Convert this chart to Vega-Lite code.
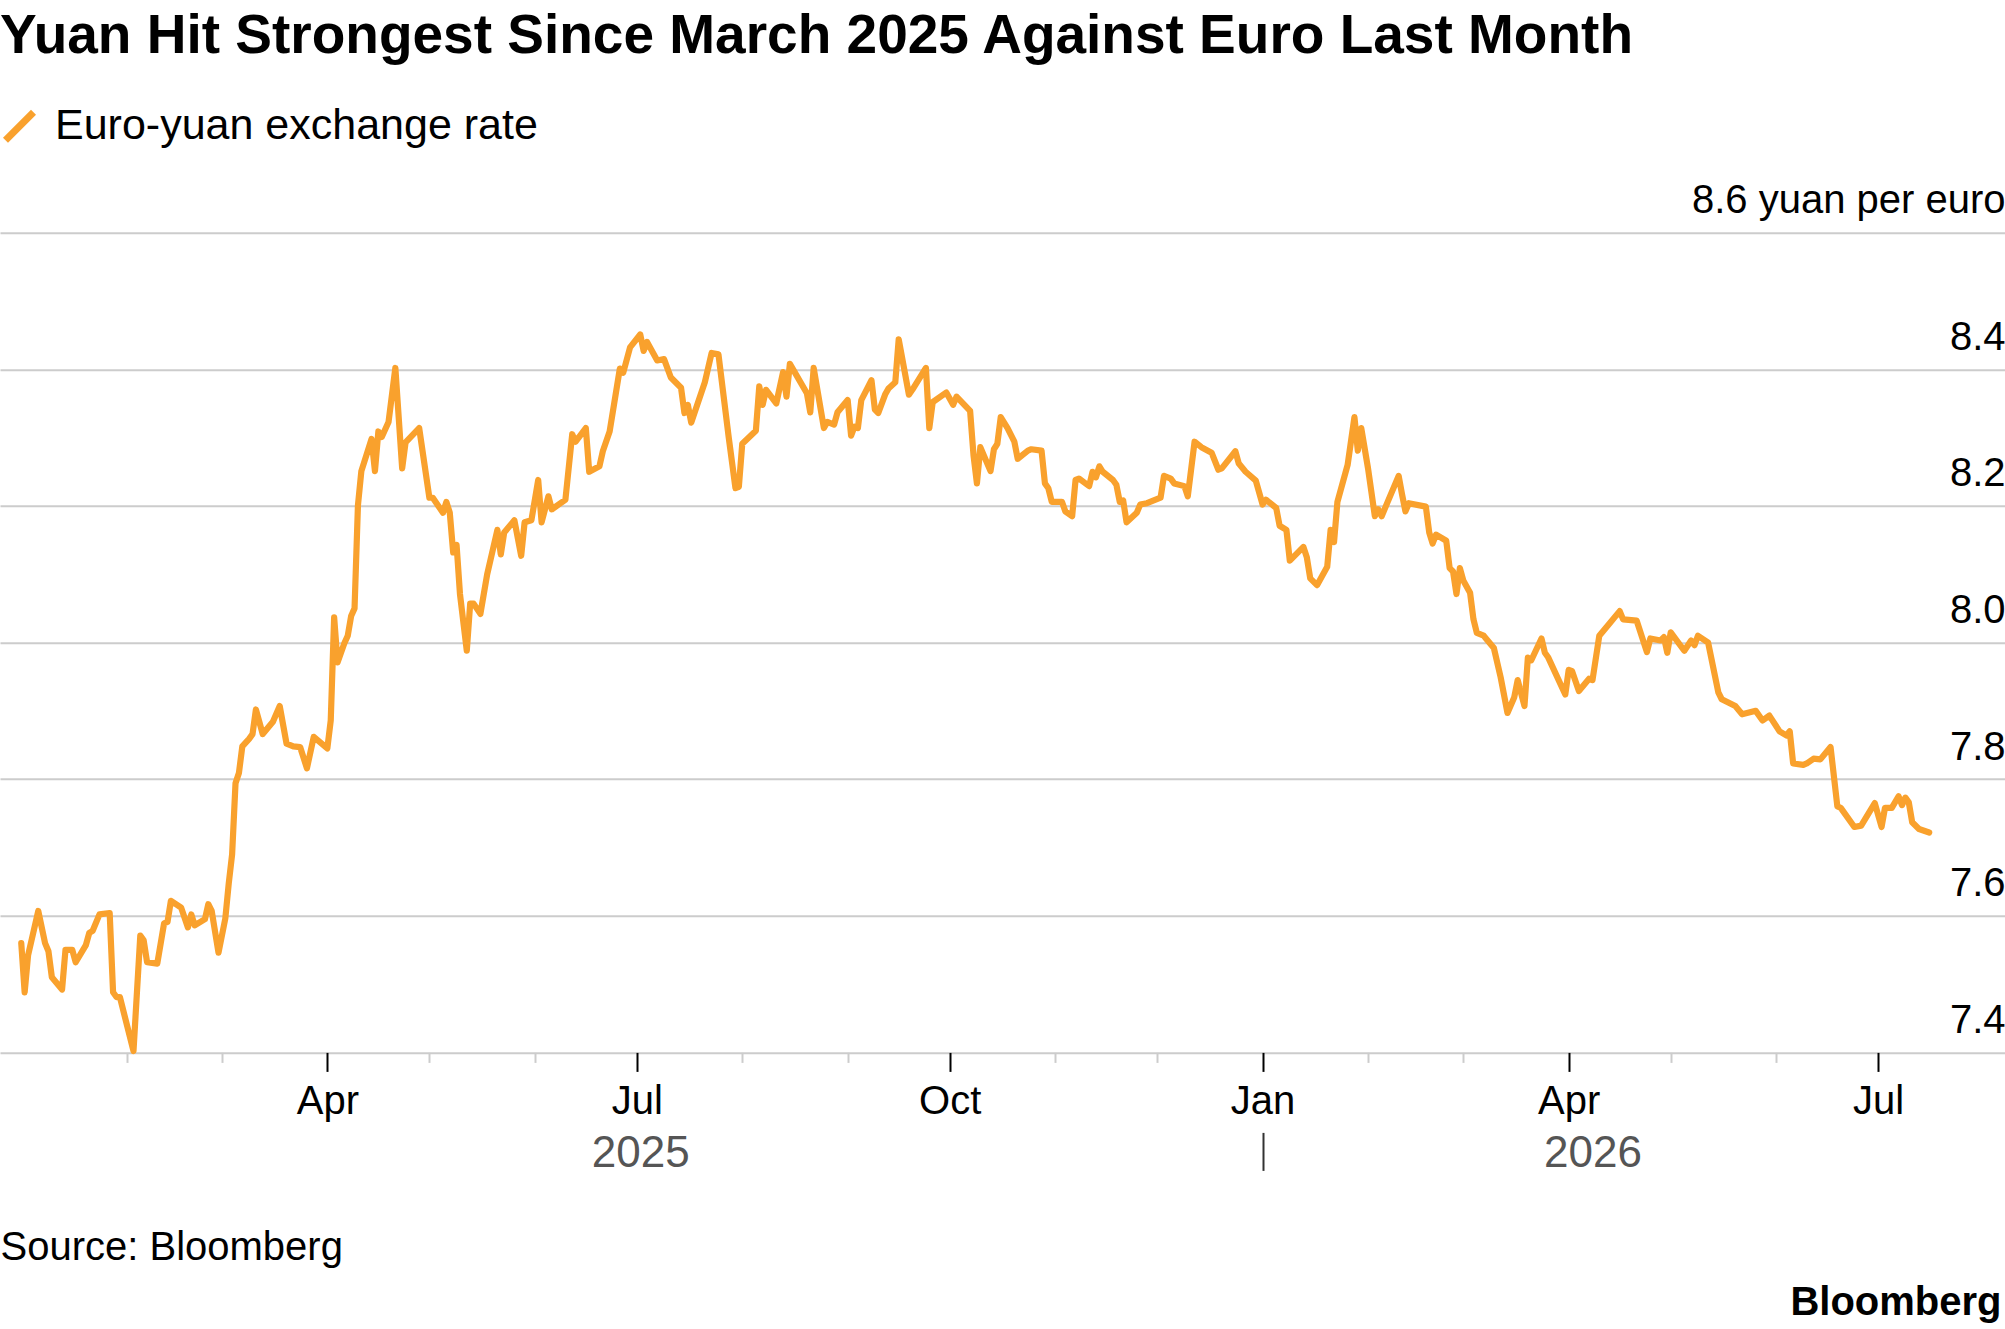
{
  "$schema": "https://vega.github.io/schema/vega-lite/v6.json",
  "width": 2005,
  "height": 819.7,
  "autosize": {"type": "none"},
  "padding": {"left": 0, "top": 232.7, "right": 0, "bottom": 276.6},
  "background": "#ffffff",
  "config": {"view": {"stroke": null}, "font": "Liberation Sans"},
  "title": {
    "text": "Yuan Hit Strongest Since March 2025 Against Euro Last Month",
    "anchor": "start",
    "frame": "group",
    "font": "Liberation Sans",
    "fontSize": 55,
    "fontWeight": "bold",
    "color": "#000000",
    "offset": 40
  },
  "data": {
    "values": [
      {"date": "2025-01-01", "rate": 7.560}, {"date": "2025-01-02", "rate": 7.488}, {"date": "2025-01-03", "rate": 7.542},
      {"date": "2025-01-06", "rate": 7.607}, {"date": "2025-01-08", "rate": 7.560}, {"date": "2025-01-09", "rate": 7.548},
      {"date": "2025-01-10", "rate": 7.510}, {"date": "2025-01-13", "rate": 7.492}, {"date": "2025-01-14", "rate": 7.550},
      {"date": "2025-01-16", "rate": 7.550}, {"date": "2025-01-17", "rate": 7.532}, {"date": "2025-01-20", "rate": 7.557},
      {"date": "2025-01-21", "rate": 7.575}, {"date": "2025-01-22", "rate": 7.578}, {"date": "2025-01-24", "rate": 7.602},
      {"date": "2025-01-27", "rate": 7.604}, {"date": "2025-01-28", "rate": 7.488}, {"date": "2025-01-29", "rate": 7.481},
      {"date": "2025-01-30", "rate": 7.481}, {"date": "2025-02-03", "rate": 7.402}, {"date": "2025-02-05", "rate": 7.571},
      {"date": "2025-02-06", "rate": 7.564}, {"date": "2025-02-07", "rate": 7.532}, {"date": "2025-02-10", "rate": 7.530},
      {"date": "2025-02-12", "rate": 7.589}, {"date": "2025-02-13", "rate": 7.591}, {"date": "2025-02-14", "rate": 7.622},
      {"date": "2025-02-17", "rate": 7.612}, {"date": "2025-02-19", "rate": 7.583}, {"date": "2025-02-20", "rate": 7.602},
      {"date": "2025-02-21", "rate": 7.586}, {"date": "2025-02-24", "rate": 7.595}, {"date": "2025-02-25", "rate": 7.617},
      {"date": "2025-02-26", "rate": 7.607}, {"date": "2025-02-28", "rate": 7.546}, {"date": "2025-03-02", "rate": 7.596},
      {"date": "2025-03-03", "rate": 7.647}, {"date": "2025-03-04", "rate": 7.690}, {"date": "2025-03-05", "rate": 7.794},
      {"date": "2025-03-06", "rate": 7.809}, {"date": "2025-03-07", "rate": 7.848}, {"date": "2025-03-09", "rate": 7.859},
      {"date": "2025-03-10", "rate": 7.866}, {"date": "2025-03-11", "rate": 7.902}, {"date": "2025-03-13", "rate": 7.866},
      {"date": "2025-03-16", "rate": 7.884}, {"date": "2025-03-18", "rate": 7.907}, {"date": "2025-03-20", "rate": 7.852},
      {"date": "2025-03-22", "rate": 7.848}, {"date": "2025-03-24", "rate": 7.847}, {"date": "2025-03-26", "rate": 7.816},
      {"date": "2025-03-28", "rate": 7.862}, {"date": "2025-04-01", "rate": 7.845}, {"date": "2025-04-02", "rate": 7.886},
      {"date": "2025-04-03", "rate": 8.037}, {"date": "2025-04-04", "rate": 7.971}, {"date": "2025-04-06", "rate": 7.999},
      {"date": "2025-04-07", "rate": 8.010}, {"date": "2025-04-08", "rate": 8.039}, {"date": "2025-04-09", "rate": 8.050},
      {"date": "2025-04-10", "rate": 8.201}, {"date": "2025-04-11", "rate": 8.251}, {"date": "2025-04-14", "rate": 8.298},
      {"date": "2025-04-15", "rate": 8.251}, {"date": "2025-04-16", "rate": 8.309}, {"date": "2025-04-17", "rate": 8.301},
      {"date": "2025-04-19", "rate": 8.323}, {"date": "2025-04-21", "rate": 8.402}, {"date": "2025-04-23", "rate": 8.255},
      {"date": "2025-04-24", "rate": 8.293}, {"date": "2025-04-28", "rate": 8.314}, {"date": "2025-05-01", "rate": 8.212},
      {"date": "2025-05-02", "rate": 8.212}, {"date": "2025-05-05", "rate": 8.190}, {"date": "2025-05-06", "rate": 8.206},
      {"date": "2025-05-07", "rate": 8.190}, {"date": "2025-05-08", "rate": 8.132}, {"date": "2025-05-09", "rate": 8.143},
      {"date": "2025-05-10", "rate": 8.071}, {"date": "2025-05-12", "rate": 7.988}, {"date": "2025-05-13", "rate": 8.057},
      {"date": "2025-05-14", "rate": 8.057}, {"date": "2025-05-16", "rate": 8.042}, {"date": "2025-05-18", "rate": 8.100},
      {"date": "2025-05-21", "rate": 8.165}, {"date": "2025-05-22", "rate": 8.129}, {"date": "2025-05-23", "rate": 8.161},
      {"date": "2025-05-26", "rate": 8.179}, {"date": "2025-05-28", "rate": 8.127}, {"date": "2025-05-29", "rate": 8.176},
      {"date": "2025-05-31", "rate": 8.179}, {"date": "2025-06-02", "rate": 8.238}, {"date": "2025-06-03", "rate": 8.176},
      {"date": "2025-06-05", "rate": 8.214}, {"date": "2025-06-06", "rate": 8.195}, {"date": "2025-06-10", "rate": 8.209},
      {"date": "2025-06-12", "rate": 8.305}, {"date": "2025-06-13", "rate": 8.294}, {"date": "2025-06-16", "rate": 8.314},
      {"date": "2025-06-17", "rate": 8.250}, {"date": "2025-06-20", "rate": 8.258}, {"date": "2025-06-21", "rate": 8.280},
      {"date": "2025-06-23", "rate": 8.309}, {"date": "2025-06-26", "rate": 8.401}, {"date": "2025-06-27", "rate": 8.395},
      {"date": "2025-06-29", "rate": 8.432}, {"date": "2025-07-02", "rate": 8.451}, {"date": "2025-07-03", "rate": 8.427},
      {"date": "2025-07-04", "rate": 8.440}, {"date": "2025-07-07", "rate": 8.413}, {"date": "2025-07-09", "rate": 8.415},
      {"date": "2025-07-11", "rate": 8.388}, {"date": "2025-07-14", "rate": 8.373}, {"date": "2025-07-15", "rate": 8.336},
      {"date": "2025-07-16", "rate": 8.348}, {"date": "2025-07-17", "rate": 8.322}, {"date": "2025-07-21", "rate": 8.381},
      {"date": "2025-07-23", "rate": 8.424}, {"date": "2025-07-25", "rate": 8.422}, {"date": "2025-07-28", "rate": 8.301},
      {"date": "2025-07-30", "rate": 8.226}, {"date": "2025-07-31", "rate": 8.228}, {"date": "2025-08-01", "rate": 8.291},
      {"date": "2025-08-05", "rate": 8.310}, {"date": "2025-08-06", "rate": 8.375}, {"date": "2025-08-07", "rate": 8.348},
      {"date": "2025-08-08", "rate": 8.370}, {"date": "2025-08-11", "rate": 8.350}, {"date": "2025-08-13", "rate": 8.396},
      {"date": "2025-08-14", "rate": 8.360}, {"date": "2025-08-15", "rate": 8.408}, {"date": "2025-08-20", "rate": 8.365},
      {"date": "2025-08-21", "rate": 8.337}, {"date": "2025-08-22", "rate": 8.402}, {"date": "2025-08-25", "rate": 8.314},
      {"date": "2025-08-26", "rate": 8.323}, {"date": "2025-08-28", "rate": 8.319}, {"date": "2025-08-29", "rate": 8.337},
      {"date": "2025-09-01", "rate": 8.355}, {"date": "2025-09-02", "rate": 8.303}, {"date": "2025-09-03", "rate": 8.316},
      {"date": "2025-09-04", "rate": 8.314}, {"date": "2025-09-05", "rate": 8.355}, {"date": "2025-09-08", "rate": 8.384},
      {"date": "2025-09-09", "rate": 8.341}, {"date": "2025-09-10", "rate": 8.336}, {"date": "2025-09-12", "rate": 8.363},
      {"date": "2025-09-13", "rate": 8.372}, {"date": "2025-09-15", "rate": 8.381}, {"date": "2025-09-16", "rate": 8.444},
      {"date": "2025-09-19", "rate": 8.363}, {"date": "2025-09-20", "rate": 8.370}, {"date": "2025-09-24", "rate": 8.402},
      {"date": "2025-09-25", "rate": 8.314}, {"date": "2025-09-26", "rate": 8.352}, {"date": "2025-09-30", "rate": 8.366},
      {"date": "2025-10-02", "rate": 8.348}, {"date": "2025-10-03", "rate": 8.360}, {"date": "2025-10-07", "rate": 8.339},
      {"date": "2025-10-08", "rate": 8.274}, {"date": "2025-10-09", "rate": 8.233}, {"date": "2025-10-10", "rate": 8.286},
      {"date": "2025-10-13", "rate": 8.251}, {"date": "2025-10-14", "rate": 8.283}, {"date": "2025-10-15", "rate": 8.291},
      {"date": "2025-10-16", "rate": 8.330}, {"date": "2025-10-18", "rate": 8.314}, {"date": "2025-10-20", "rate": 8.294},
      {"date": "2025-10-21", "rate": 8.269}, {"date": "2025-10-24", "rate": 8.281}, {"date": "2025-10-25", "rate": 8.283},
      {"date": "2025-10-28", "rate": 8.281}, {"date": "2025-10-29", "rate": 8.233}, {"date": "2025-10-30", "rate": 8.226},
      {"date": "2025-10-31", "rate": 8.206}, {"date": "2025-11-03", "rate": 8.206}, {"date": "2025-11-04", "rate": 8.192},
      {"date": "2025-11-06", "rate": 8.185}, {"date": "2025-11-07", "rate": 8.238}, {"date": "2025-11-08", "rate": 8.240},
      {"date": "2025-11-11", "rate": 8.229}, {"date": "2025-11-12", "rate": 8.250}, {"date": "2025-11-13", "rate": 8.242},
      {"date": "2025-11-14", "rate": 8.258}, {"date": "2025-11-15", "rate": 8.250}, {"date": "2025-11-18", "rate": 8.238},
      {"date": "2025-11-19", "rate": 8.231}, {"date": "2025-11-20", "rate": 8.206}, {"date": "2025-11-21", "rate": 8.208},
      {"date": "2025-11-22", "rate": 8.176}, {"date": "2025-11-25", "rate": 8.190}, {"date": "2025-11-26", "rate": 8.202},
      {"date": "2025-11-28", "rate": 8.204}, {"date": "2025-12-02", "rate": 8.212}, {"date": "2025-12-03", "rate": 8.244},
      {"date": "2025-12-05", "rate": 8.240}, {"date": "2025-12-06", "rate": 8.233}, {"date": "2025-12-09", "rate": 8.229},
      {"date": "2025-12-10", "rate": 8.214}, {"date": "2025-12-12", "rate": 8.294}, {"date": "2025-12-14", "rate": 8.286},
      {"date": "2025-12-17", "rate": 8.278}, {"date": "2025-12-19", "rate": 8.253}, {"date": "2025-12-20", "rate": 8.255},
      {"date": "2025-12-24", "rate": 8.280}, {"date": "2025-12-25", "rate": 8.262}, {"date": "2025-12-27", "rate": 8.250},
      {"date": "2025-12-30", "rate": 8.237}, {"date": "2026-01-01", "rate": 8.202}, {"date": "2026-01-02", "rate": 8.209},
      {"date": "2026-01-05", "rate": 8.197}, {"date": "2026-01-06", "rate": 8.171}, {"date": "2026-01-08", "rate": 8.165},
      {"date": "2026-01-09", "rate": 8.120}, {"date": "2026-01-13", "rate": 8.140}, {"date": "2026-01-14", "rate": 8.125},
      {"date": "2026-01-15", "rate": 8.094}, {"date": "2026-01-17", "rate": 8.084}, {"date": "2026-01-20", "rate": 8.111},
      {"date": "2026-01-21", "rate": 8.165}, {"date": "2026-01-22", "rate": 8.147}, {"date": "2026-01-23", "rate": 8.206},
      {"date": "2026-01-26", "rate": 8.260}, {"date": "2026-01-28", "rate": 8.330}, {"date": "2026-01-29", "rate": 8.281},
      {"date": "2026-01-30", "rate": 8.314}, {"date": "2026-02-01", "rate": 8.255}, {"date": "2026-02-03", "rate": 8.185},
      {"date": "2026-02-04", "rate": 8.195}, {"date": "2026-02-05", "rate": 8.185}, {"date": "2026-02-10", "rate": 8.244},
      {"date": "2026-02-11", "rate": 8.217}, {"date": "2026-02-12", "rate": 8.192}, {"date": "2026-02-13", "rate": 8.204},
      {"date": "2026-02-18", "rate": 8.199}, {"date": "2026-02-19", "rate": 8.161}, {"date": "2026-02-20", "rate": 8.145},
      {"date": "2026-02-21", "rate": 8.158}, {"date": "2026-02-24", "rate": 8.149}, {"date": "2026-02-25", "rate": 8.109},
      {"date": "2026-02-26", "rate": 8.104}, {"date": "2026-02-27", "rate": 8.071}, {"date": "2026-02-28", "rate": 8.109},
      {"date": "2026-03-01", "rate": 8.091}, {"date": "2026-03-03", "rate": 8.073}, {"date": "2026-03-04", "rate": 8.034},
      {"date": "2026-03-05", "rate": 8.014}, {"date": "2026-03-07", "rate": 8.010}, {"date": "2026-03-10", "rate": 7.992},
      {"date": "2026-03-12", "rate": 7.949}, {"date": "2026-03-14", "rate": 7.897}, {"date": "2026-03-16", "rate": 7.920},
      {"date": "2026-03-17", "rate": 7.945}, {"date": "2026-03-19", "rate": 7.907}, {"date": "2026-03-20", "rate": 7.978},
      {"date": "2026-03-21", "rate": 7.974}, {"date": "2026-03-24", "rate": 8.006}, {"date": "2026-03-25", "rate": 7.985},
      {"date": "2026-03-26", "rate": 7.978}, {"date": "2026-03-31", "rate": 7.924}, {"date": "2026-04-01", "rate": 7.960},
      {"date": "2026-04-02", "rate": 7.958}, {"date": "2026-04-04", "rate": 7.929}, {"date": "2026-04-07", "rate": 7.947},
      {"date": "2026-04-08", "rate": 7.945}, {"date": "2026-04-10", "rate": 8.010}, {"date": "2026-04-13", "rate": 8.028},
      {"date": "2026-04-16", "rate": 8.046}, {"date": "2026-04-17", "rate": 8.034}, {"date": "2026-04-21", "rate": 8.032},
      {"date": "2026-04-24", "rate": 7.986}, {"date": "2026-04-25", "rate": 8.006}, {"date": "2026-04-28", "rate": 8.003},
      {"date": "2026-04-29", "rate": 8.008}, {"date": "2026-04-30", "rate": 7.985}, {"date": "2026-05-01", "rate": 8.015},
      {"date": "2026-05-05", "rate": 7.988}, {"date": "2026-05-07", "rate": 8.003}, {"date": "2026-05-08", "rate": 7.996},
      {"date": "2026-05-09", "rate": 8.010}, {"date": "2026-05-12", "rate": 8.000}, {"date": "2026-05-15", "rate": 7.927},
      {"date": "2026-05-16", "rate": 7.917}, {"date": "2026-05-20", "rate": 7.907}, {"date": "2026-05-22", "rate": 7.895},
      {"date": "2026-05-26", "rate": 7.900}, {"date": "2026-05-28", "rate": 7.886}, {"date": "2026-05-30", "rate": 7.893},
      {"date": "2026-06-02", "rate": 7.870}, {"date": "2026-06-04", "rate": 7.864}, {"date": "2026-06-05", "rate": 7.870},
      {"date": "2026-06-06", "rate": 7.823}, {"date": "2026-06-09", "rate": 7.821}, {"date": "2026-06-10", "rate": 7.823},
      {"date": "2026-06-12", "rate": 7.830}, {"date": "2026-06-14", "rate": 7.829}, {"date": "2026-06-17", "rate": 7.847},
      {"date": "2026-06-19", "rate": 7.760}, {"date": "2026-06-20", "rate": 7.758}, {"date": "2026-06-24", "rate": 7.730},
      {"date": "2026-06-26", "rate": 7.732}, {"date": "2026-06-30", "rate": 7.765}, {"date": "2026-07-02", "rate": 7.730},
      {"date": "2026-07-03", "rate": 7.758}, {"date": "2026-07-05", "rate": 7.758}, {"date": "2026-07-07", "rate": 7.775},
      {"date": "2026-07-08", "rate": 7.762}, {"date": "2026-07-09", "rate": 7.773}, {"date": "2026-07-10", "rate": 7.766},
      {"date": "2026-07-11", "rate": 7.737}, {"date": "2026-07-13", "rate": 7.727}, {"date": "2026-07-16", "rate": 7.722}
    ]
  },
  "layer": [
    {
      "mark": {"type": "line", "strokeWidth": 6.2, "strokeJoin": "round", "strokeCap": "round"},
      "encoding": {
        "x": {
          "field": "date",
          "type": "temporal",
          "scale": {
            "type": "utc",
            "nice": false,
            "domain": [
              {"year": 2024, "month": 12, "date": 25, "hours": 18, "utc": true},
              {"year": 2026, "month": 8, "date": 7, "hours": 7, "utc": true}
            ]
          },
          "axis": {
            "orient": "bottom",
            "title": null,
            "domain": false,
            "grid": false,
            "values": [
              {"year": 2025, "month": 2, "date": 1, "utc": true},
              {"year": 2025, "month": 3, "date": 1, "utc": true},
              {"year": 2025, "month": 4, "date": 1, "utc": true},
              {"year": 2025, "month": 5, "date": 1, "utc": true},
              {"year": 2025, "month": 6, "date": 1, "utc": true},
              {"year": 2025, "month": 7, "date": 1, "utc": true},
              {"year": 2025, "month": 8, "date": 1, "utc": true},
              {"year": 2025, "month": 9, "date": 1, "utc": true},
              {"year": 2025, "month": 10, "date": 1, "utc": true},
              {"year": 2025, "month": 11, "date": 1, "utc": true},
              {"year": 2025, "month": 12, "date": 1, "utc": true},
              {"year": 2026, "month": 1, "date": 1, "utc": true},
              {"year": 2026, "month": 2, "date": 1, "utc": true},
              {"year": 2026, "month": 3, "date": 1, "utc": true},
              {"year": 2026, "month": 4, "date": 1, "utc": true},
              {"year": 2026, "month": 5, "date": 1, "utc": true},
              {"year": 2026, "month": 6, "date": 1, "utc": true},
              {"year": 2026, "month": 7, "date": 1, "utc": true}
            ],
            "labelExpr": "utcmonth(datum.value) % 3 == 0 ? utcFormat(datum.value, '%b') : ''",
            "tickColor": {"condition": {"test": "utcmonth(datum.value) % 3 == 0", "value": "#000000"}, "value": "#cccccc"},
            "tickSize": {"condition": {"test": "utcmonth(datum.value) % 3 == 0", "value": 19}, "value": 10},
            "tickWidth": 2,
            "labelFont": "Liberation Sans",
            "labelFontSize": 40,
            "labelColor": "#000000",
            "labelBaseline": "alphabetic",
            "labelPadding": 42,
            "labelOverlap": false,
            "labelBound": false,
            "labelFlush": false
          }
        },
        "y": {
          "field": "rate",
          "type": "quantitative",
          "scale": {"domain": [7.4, 8.6], "nice": false, "zero": false},
          "axis": {
            "orient": "right",
            "values": [7.4, 7.6, 7.8, 8.0, 8.2, 8.4, 8.6],
            "domain": false,
            "ticks": false,
            "tickSize": 0,
            "grid": true,
            "gridColor": "#cccccc",
            "gridWidth": 2,
            "labelExpr": "datum.value > 8.55 ? '8.6 yuan per euro' : format(datum.value, '.1f')",
            "labelAlign": "right",
            "labelBaseline": "alphabetic",
            "labelOffset": -20,
            "labelPadding": 0,
            "labelLimit": 0,
            "labelFont": "Liberation Sans",
            "labelFontSize": 40,
            "labelColor": "#000000",
            "labelOverlap": false,
            "labelBound": false,
            "labelFlush": false,
            "title": "Bloomberg",
            "titleAngle": 0,
            "titleAlign": "right",
            "titleBaseline": "alphabetic",
            "titleX": -4,
            "titleY": 1082,
            "titleFont": "Liberation Sans",
            "titleFontSize": 40,
            "titleFontWeight": "bold",
            "titleColor": "#000000"
          }
        },
        "color": {
          "datum": "Euro-yuan exchange rate",
          "type": "nominal",
          "scale": {"range": ["#f9a12d"]},
          "legend": {
            "orient": "none",
            "legendX": -2,
            "legendY": -128,
            "title": null,
            "padding": 0,
            "symbolType": "M-1,1L1,-1",
            "symbolSize": 784,
            "symbolStrokeWidth": 7,
            "symbolFillColor": "transparent",
            "labelFont": "Liberation Sans",
            "labelFontSize": 43,
            "labelColor": "#000000",
            "labelOffset": 14,
            "labelLimit": 0
          }
        }
      }
    },
    {
      "mark": {"type": "point", "opacity": 0},
      "encoding": {
        "x": {
          "field": "date",
          "type": "temporal",
          "axis": {
            "orient": "bottom",
            "offset": 80,
            "domain": false,
            "grid": false,
            "values": [
              {"year": 2025, "month": 7, "date": 2, "utc": true},
              {"year": 2026, "month": 1, "date": 1, "utc": true},
              {"year": 2026, "month": 4, "date": 8, "utc": true}
            ],
            "labelExpr": "utcmonth(datum.value) == 0 ? '' : utcFormat(datum.value, '%Y')",
            "tickColor": {"condition": {"test": "utcmonth(datum.value) == 0", "value": "#333333"}, "value": "transparent"},
            "tickSize": 38,
            "tickWidth": 2,
            "labelFont": "Liberation Sans",
            "labelFontSize": 44,
            "labelColor": "#555555",
            "labelBaseline": "alphabetic",
            "labelPadding": -4,
            "labelOverlap": false,
            "labelBound": false,
            "labelFlush": false,
            "title": "Source: Bloomberg",
            "titleAnchor": "start",
            "titleAlign": "left",
            "titleBaseline": "alphabetic",
            "titleX": 0,
            "titleY": 127,
            "titleFont": "Liberation Sans",
            "titleFontSize": 40,
            "titleFontWeight": "normal",
            "titleColor": "#000000"
          }
        }
      }
    }
  ],
  "resolve": {"axis": {"x": "independent"}}
}
